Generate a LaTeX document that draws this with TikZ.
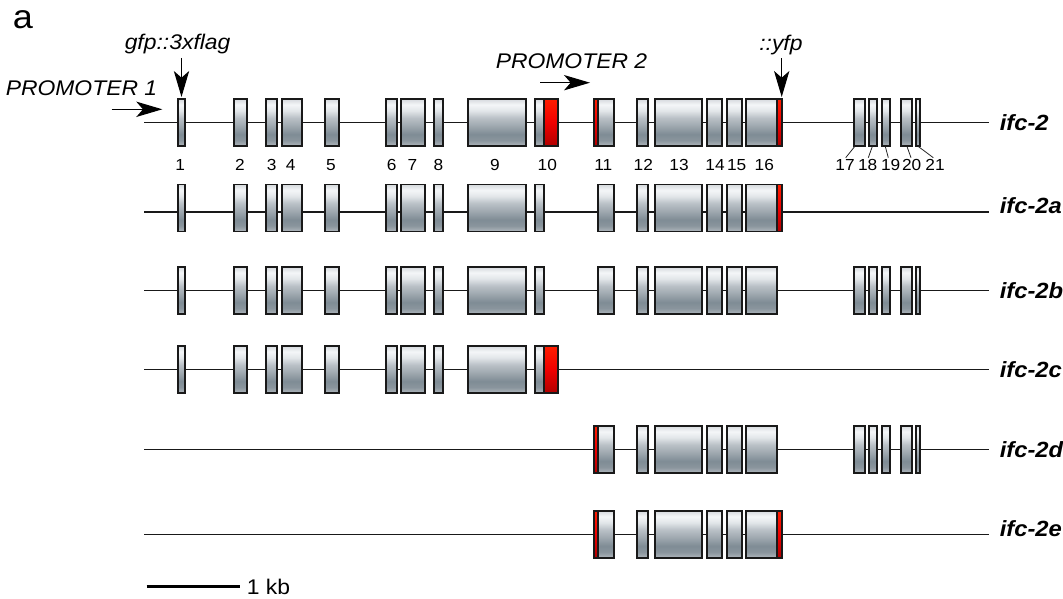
\documentclass[tikz,border=0pt]{standalone}
\usepackage{fontspec}
\setmainfont{Liberation Sans}[FakeStretch=1.08]
\usetikzlibrary{arrows.meta}
\definecolor{g0}{HTML}{D5D9DD}
\definecolor{g1}{HTML}{F4F6F8}
\definecolor{g2}{HTML}{E2E6E9}
\definecolor{g3}{HTML}{BAC1C7}
\definecolor{g4}{HTML}{A2ABB2}
\definecolor{g5}{HTML}{7F8C95}
\definecolor{g6}{HTML}{8A959D}
\definecolor{g7}{HTML}{B0B7BD}
\definecolor{rTop}{HTML}{FF1E00}
\definecolor{rMid}{HTML}{F00000}
\definecolor{rBot}{HTML}{B00000}
\pgfdeclareverticalshading{exonsh}{100bp}{color(0bp)=(g7); color(25bp)=(g7); color(31bp)=(g6); color(37.5bp)=(g5); color(47.5bp)=(g4); color(55bp)=(g3); color(62.5bp)=(g2); color(69bp)=(g1); color(75bp)=(g0); color(100bp)=(g0)}
\def\Efront{178.3/185,234.3/246.7,266/276.7,281.7/301.7,325/339,386/397,401/425,434/442.7,467.7/525.7}
\def\Emid{637/647.7,655/702.3,706.7/722.3,726.7/742.3}
\def\Eback{854/864.7,869.3/876.7,881.7/890,901.3/912.3,916.3/920}
\newcommand\grayset[2]{\foreach \xa/\xb in #1 {\path[exon] (\xa,#2-23.5) rectangle (\xb,#2+23.5);}}
\newcommand\grayex[3]{\path[exon] (#1,#3-23.5) rectangle (#2,#3+23.5);}
\newcommand\redex[3]{\path[redx] (#1,#3-23.5) rectangle (#2,#3+23.5);}
\begin{document}
\begin{tikzpicture}[x=0.75pt,y=-0.75pt,
  exon/.style={shade, shading=exonsh, draw=black!90, line width=1.35pt},
  redx/.style={top color=rTop, bottom color=rBot, middle color=rMid, draw=black!90, line width=1.35pt},
  intron/.style={line width=1.2pt, draw=black!90},
  lbl/.style={font=\fontsize{15.9}{18}\selectfont\itshape, inner sep=0pt, anchor=base west},
  iso/.style={font=\fontsize{16.5}{18}\selectfont\bfseries\itshape, inner sep=0pt, anchor=base west},
  num/.style={font=\fontsize{12}{13}\selectfont, inner sep=0pt, anchor=base},
  lead/.style={line width=0.6pt, draw=black!85},
  bigarrow/.style={-{Stealth[length=19.5pt,width=11.5pt,inset=5pt]}, line width=0.85pt}]
\useasboundingbox (0,0) rectangle (1063,599);

% panel letter and annotations
\node[font=\fontsize{25}{28}\selectfont, inner sep=0pt, anchor=base west] (pa) at (12.5,28.5) {a};
\node[lbl] (gfp) at (124.5,50) {gfp::3xflag};
\node[lbl] (p1) at (5.5,96) {PROMOTER 1};
\node[lbl] (p2) at (495.5,68.3) {PROMOTER 2};
\node[lbl] (yfp) at (759,50.7) {::yfp};
\coordinate (gfpA) at (181.5,58); \coordinate (gfpB) at (181.5,97);
\coordinate (p1A) at (111.7,109.3); \coordinate (p1B) at (162.3,109.3);
\coordinate (p2A) at (540,82.7); \coordinate (p2B) at (590,82.7);
\coordinate (yfpA) at (781.7,58.3); \coordinate (yfpB) at (781.7,97);
\draw[bigarrow] (gfpA) -- (gfpB);
\draw[bigarrow] (p1A) -- (p1B);
\draw[bigarrow] (p2A) -- (p2B);
\draw[bigarrow] (yfpA) -- (yfpB);

% row ifc-2
\coordinate (r1s) at (144,122.7); \coordinate (r1e) at (989,122.7);
\draw[intron] (r1s) -- (r1e);
\grayset{\Efront}{122.5}
\grayex{534.7}{544.3}{122.5}\redex{544.3}{558.3}{122.5}
\redex{594}{598}{122.5}\grayex{598}{613.7}{122.5}
\grayset{\Emid}{122.5}
\grayex{746.3}{777.3}{122.5}\redex{777.3}{782.3}{122.5}
\grayset{\Eback}{122.5}
\node[iso] (l1) at (999.5,130.5) {ifc-2};

% exon numbers
\foreach \n/\xx in {1/180.3,2/240,3/271.7,4/290.7,5/331,6/391.7,7/412.3,8/438.3,9/495,10/547.3,11/603.3,12/643.3,13/679,14/715,15/736.7,16/764.3,17/845,18/867.7,19/890.7,20/911.7,21/935}
  \node[num] (n\n) at (\xx,170.7) {\n};
\coordinate (k17a) at (854.7,146.5); \coordinate (k17b) at (845.7,157.7);
\coordinate (k18a) at (872.3,146.5); \coordinate (k18b) at (868.3,157.7);
\coordinate (k19a) at (885.3,146.5); \coordinate (k19b) at (888.3,157.7);
\coordinate (k20a) at (907,146.5); \coordinate (k20b) at (911,157.7);
\coordinate (k21a) at (918.3,146.5); \coordinate (k21b) at (933.3,157.7);
\foreach \k in {17,18,19,20,21} \draw[lead] (k\k a) -- (k\k b);

% row ifc-2a
\coordinate (r2s) at (144,211.7); \coordinate (r2e) at (989,211.7);
\draw[intron] (r2s) -- (r2e);
\grayset{\Efront}{208}
\grayex{534.7}{544.3}{208}
\grayex{598}{613.7}{208}
\grayset{\Emid}{208}
\grayex{746.3}{777.3}{208}\redex{777.3}{782.3}{208}
\node[iso] (l2) at (999.5,213.3) {ifc-2a};

% row ifc-2b
\coordinate (r3s) at (144,290.4); \coordinate (r3e) at (989,290.4);
\draw[intron] (r3s) -- (r3e);
\grayset{\Efront}{290.5}
\grayex{534.7}{544.3}{290.5}
\grayex{598}{613.7}{290.5}
\grayset{\Emid}{290.5}
\grayex{746.3}{777.3}{290.5}
\grayset{\Eback}{290.5}
\node[iso] (l3) at (999.5,298.3) {ifc-2b};

% row ifc-2c
\coordinate (r4s) at (144,369.4); \coordinate (r4e) at (989,369.4);
\draw[intron] (r4s) -- (r4e);
\grayset{\Efront}{369.5}
\grayex{534.7}{544.3}{369.5}\redex{544.3}{558.3}{369.5}
\node[iso] (l4) at (999.5,377.3) {ifc-2c};

% row ifc-2d
\coordinate (r5s) at (144,449.4); \coordinate (r5e) at (989,449.4);
\draw[intron] (r5s) -- (r5e);
\redex{594}{598}{449.4}\grayex{598}{613.7}{449.4}
\grayset{\Emid}{449.4}
\grayex{746.3}{777.3}{449.4}
\grayset{\Eback}{449.4}
\node[iso] (l5) at (999.5,457.3) {ifc-2d};

% row ifc-2e
\coordinate (r6s) at (144,534.3); \coordinate (r6e) at (989,534.3);
\draw[intron] (r6s) -- (r6e);
\redex{594}{598}{534.3}\grayex{598}{613.7}{534.3}
\grayset{\Emid}{534.3}
\grayex{746.3}{777.3}{534.3}\redex{777.3}{782.3}{534.3}
\node[iso] (l6) at (999.5,536) {ifc-2e};

% scale bar
\coordinate (sbA) at (146.7,586.7); \coordinate (sbB) at (240,586.7);
\draw[line width=1.9pt] (sbA) -- (sbB);
\node[font=\fontsize{15.9}{18}\selectfont, inner sep=0pt, anchor=base west] (kb) at (246.5,594) {1 kb};
\end{tikzpicture}
\end{document}
